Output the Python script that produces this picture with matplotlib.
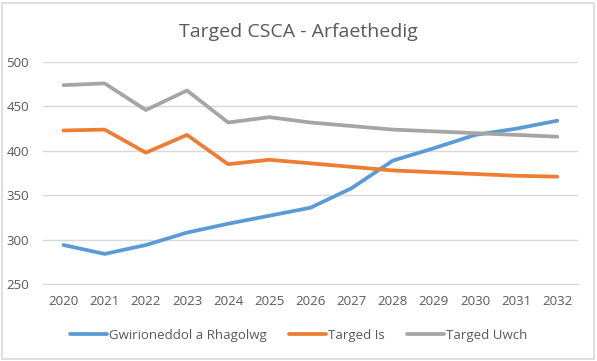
import matplotlib
matplotlib.use("Agg")
import matplotlib.pyplot as plt
from matplotlib.patches import Rectangle

years = ["2020", "2021", "2022", "2023", "2024", "2025", "2026", "2027", "2028", "2029", "2030", "2031", "2032"]
actual = [294, 284, 294, 308, 318, 327, 336, 358, 389, 403, 418, 425, 434]
target_low = [423, 424, 398, 418, 385, 390, 386, 382, 378, 376, 374, 372, 371]
target_high = [474, 476, 446, 468, 432, 438, 432, 428, 424, 422, 420, 418, 416]

plt.rcParams['font.family'] = ['Open Sans', 'DejaVu Sans']
fig = plt.figure(figsize=(5.97, 3.61), dpi=100)
ax = fig.add_axes([0.072, 0.213, 0.896, 0.615])
x = list(range(len(years)))
ax.plot(x, actual, color='#5B9BD5', lw=2.7, label='Gwirioneddol a Rhagolwg', solid_capstyle='round')
ax.plot(x, target_low, color='#ED7D31', lw=2.7, label='Targed Is', solid_capstyle='round')
ax.plot(x, target_high, color='#A5A5A5', lw=2.7, label='Targed Uwch', solid_capstyle='round')
ax.set_xlim(-0.5, len(years) - 0.5)
ax.set_ylim(250, 500)
ax.set_yticks([250, 300, 350, 400, 450, 500])
ax.set_xticks(x)
ax.set_xticklabels(years)
ax.grid(axis='y', color='#D9D9D9', lw=1)
ax.set_axisbelow(True)
for s in ['top', 'right', 'left']:
    ax.spines[s].set_visible(False)
ax.spines['bottom'].set_color('#D9D9D9')
ax.tick_params(length=0, labelsize=9.5, colors='#595959', pad=8)
ax.tick_params(axis='y', pad=10)
fig.text(0.5, 0.91, 'Targed CSCA - Arfaethedig', ha='center', va='center', fontsize=14, color='#595959')
leg = fig.legend(loc='center', bbox_to_anchor=(0.5, 0.072), ncol=3, frameon=False, fontsize=9.5,
                 handlelength=2.8, columnspacing=1.7, handletextpad=0.15)
for t in leg.get_texts():
    t.set_color('#595959')
fig.patches.append(Rectangle((0.003, 0.006), 0.992, 0.986, transform=fig.transFigure, fill=False,
                             edgecolor='#D9D9D9', lw=1.2))
fig.savefig('out.png', dpi=100)
